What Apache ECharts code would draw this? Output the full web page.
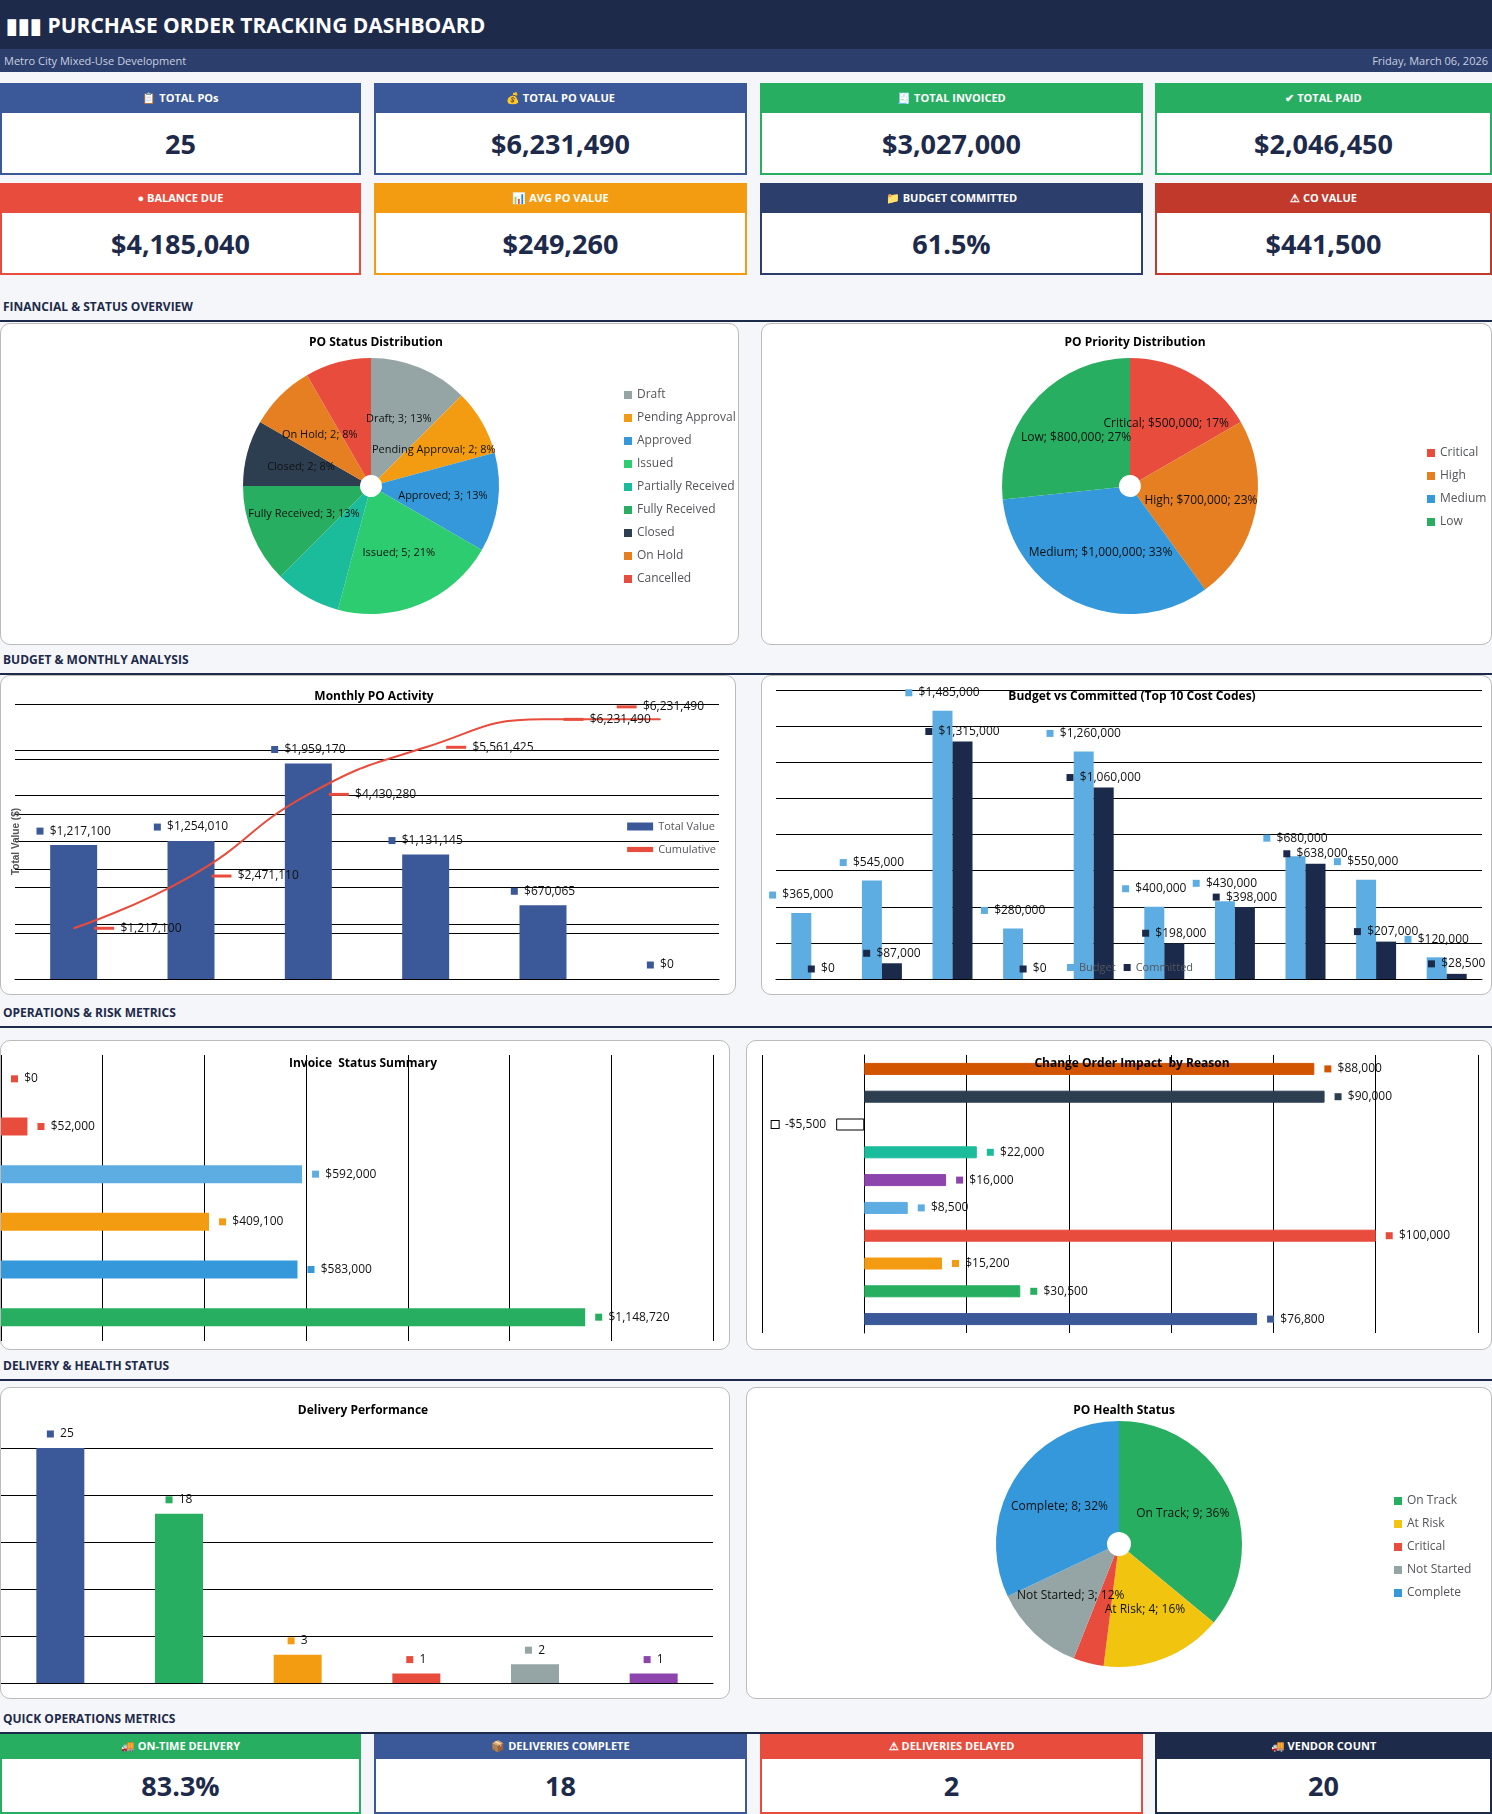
<!DOCTYPE html>
<html>
<head>
<meta charset="utf-8">
<script src="https://cdn.jsdelivr.net/npm/echarts@6/dist/echarts.min.js"></script>
<style>
  body { margin: 0; width: 1492px; height: 1814px; background: #f4f6f9; font-family: 'Open Sans', 'Liberation Sans', sans-serif; position: relative; overflow: hidden; }
  .abs { position: absolute; }
  .top { left: 0; top: 0; width: 1492px; height: 49px; background: #1e2a4a; color: #fff; font-size: 21px; font-weight: bold; line-height: 50px; padding-left: 6px; box-sizing: border-box; }
  .sub { left: 0; top: 49px; width: 1492px; height: 23px; background: #2c3e6b; color: #c8cfe0; font-size: 11px; line-height: 23px; padding: 0 4px; box-sizing: border-box; }
  .kpi { background: #fff; box-sizing: border-box; border: 2px solid; border-top: none; }
  .kpi .h { height: 30px; color: #fff; font-size: 11px; font-weight: bold; text-align: center; line-height: 30px; }
  .kpi .v { text-align: center; font-size: 27px; font-weight: bold; color: #1e2a4a; line-height: 62px; }
  .sec { left: 3px; font-size: 12px; font-weight: bold; color: #1e2a4a; }
  .rule { left: 0; width: 1492px; height: 2px; background: #1e2a4a; }
  .panel { background: #fff; border: 1px solid #bbb; border-radius: 10px; box-sizing: border-box; }
</style>
</head>
<body>
<div class="abs top">&#9646;&#9646;&#9646; PURCHASE ORDER TRACKING DASHBOARD</div>
<div class="abs sub"><span>Metro City Mixed-Use Development</span><span style="float:right">Friday, March 06, 2026</span></div>
<div id="kpis"></div>
<div id="panels"></div>
<script>
// ---- data ----
const kpiRow1 = [['📋 TOTAL POs', '25', '#3b5998'], ['💰 TOTAL PO VALUE', '$6,231,490', '#3b5998'], ['🧾 TOTAL INVOICED', '$3,027,000', '#27ae60'], ['✔ TOTAL PAID', '$2,046,450', '#27ae60']];
const kpiRow2 = [['● BALANCE DUE', '$4,185,040', '#e74c3c'], ['📊 AVG PO VALUE', '$249,260', '#f39c12'], ['📁 BUDGET COMMITTED', '61.5%', '#2c3e6b'], ['⚠ CO VALUE', '$441,500', '#c0392b']];
const kpiRow3 = [['🚚 ON-TIME DELIVERY', '83.3%', '#27ae60'], ['📦 DELIVERIES COMPLETE', '18', '#3b5998'], ['⚠ DELIVERIES DELAYED', '2', '#e74c3c'], ['🚚 VENDOR COUNT', '20', '#1e2a4a']];

const statusNames = ['Draft', 'Pending Approval', 'Approved', 'Issued', 'Partially Received', 'Fully Received', 'Closed', 'On Hold', 'Cancelled'];
const statusCounts = [3, 2, 3, 5, 2, 3, 2, 2, 2];
const statusColors = ['#95a5a6', '#f39c12', '#3498db', '#2ecc71', '#1abc9c', '#27ae60', '#2c3e50', '#e67e22', '#e74c3c'];

const priorityNames = ['Critical', 'High', 'Medium', 'Low'];
const priorityValues = [500000, 700000, 1000000, 800000];
const priorityColors = ['#e74c3c', '#e67e22', '#3498db', '#27ae60'];

const months = ['M1', 'M2', 'M3', 'M4', 'M5', 'M6'];
const monthTotal = [1217100, 1254010, 1959170, 1131145, 670065, 0];
const monthCumulative = [1217100, 2471110, 4430280, 5561425, 6231490, 6231490];

const costCodes = ['C1', 'C2', 'C3', 'C4', 'C5', 'C6', 'C7', 'C8', 'C9', 'C10'];
const budget = [365000, 545000, 1485000, 280000, 1260000, 400000, 430000, 680000, 550000, 120000];
const committed = [0, 87000, 1315000, 0, 1060000, 198000, 398000, 638000, 207000, 28500];

const invoiceCats = ['I1', 'I2', 'I3', 'I4', 'I5', 'I6'];
const invoiceValues = [0, 52000, 592000, 409100, 583000, 1148720];
const invoiceColors = ['#e74c3c', '#e74c3c', '#5dade2', '#f39c12', '#3498db', '#27ae60'];

const coCats = ['R1', 'R2', 'R3', 'R4', 'R5', 'R6', 'R7', 'R8', 'R9', 'R10'];
const coValues = [88000, 90000, -5500, 22000, 16000, 8500, 100000, 15200, 30500, 76800];
const coColors = ['#d35400', '#2c3e50', '#ffffff', '#1abc9c', '#8e44ad', '#5dade2', '#e74c3c', '#f39c12', '#27ae60', '#3b5998'];

const deliveryCats = ['D1', 'D2', 'D3', 'D4', 'D5', 'D6'];
const deliveryValues = [25, 18, 3, 1, 2, 1];
const deliveryColors = ['#3b5998', '#27ae60', '#f39c12', '#e74c3c', '#95a5a6', '#8e44ad'];

const healthNames = ['On Track', 'At Risk', 'Critical', 'Not Started', 'Complete'];
const healthCounts = [9, 4, 1, 3, 8];
const healthColors = ['#27ae60', '#f1c40f', '#e74c3c', '#95a5a6', '#3498db'];

// ---- layout ----
const cardX = [[0, 361], [374, 373], [760, 383], [1155, 337]];
function kpiRow(row, top, h) {
  row.forEach(function (k, i) {
    const d = document.createElement('div');
    d.className = 'abs kpi';
    d.style.cssText = 'left:' + cardX[i][0] + 'px;top:' + top + 'px;width:' + cardX[i][1] + 'px;height:' + h + 'px;border-color:' + k[2];
    d.innerHTML = '<div class="h" style="background:' + k[2] + (h < 90 ? ';height:26px;line-height:26px' : '') + '">' + k[0] + '</div><div class="v"' + (h < 90 ? ' style="line-height:54px"' : '') + '>' + k[1] + '</div>';
    document.getElementById('kpis').appendChild(d);
  });
}
kpiRow(kpiRow1, 83, 92);
kpiRow(kpiRow2, 183, 92);
kpiRow(kpiRow3, 1733, 81);

const sections = [['FINANCIAL &amp; STATUS OVERVIEW', 298], ['BUDGET &amp; MONTHLY ANALYSIS', 651], ['OPERATIONS &amp; RISK METRICS', 1004], ['DELIVERY &amp; HEALTH STATUS', 1357], ['QUICK OPERATIONS METRICS', 1710]];
sections.forEach(function (s) {
  const t = document.createElement('div');
  t.className = 'abs sec'; t.style.top = s[1] + 'px'; t.innerHTML = s[0];
  document.body.appendChild(t);
  const r = document.createElement('div');
  r.className = 'abs rule'; r.style.top = (s[1] + 22) + 'px';
  document.body.appendChild(r);
});

function panel(id, x, y, w, h) {
  const p = document.createElement('div');
  p.className = 'abs panel';
  p.style.cssText = 'left:' + x + 'px;top:' + y + 'px;width:' + w + 'px;height:' + h + 'px';
  p.id = id;
  document.getElementById('panels').appendChild(p);
  return echarts.init(p);
}
const font = "'Liberation Sans Narrow', 'Open Sans', sans-serif";
const titleStyle = { fontSize: 12, fontWeight: 'bold', color: '#000', fontFamily: font };
function sq(c) { return { width: 7, height: 7, backgroundColor: c }; }
function money(v) { return (v < 0 ? '-$' : '$') + Math.abs(v).toLocaleString('en-US'); }
function pieFmt(p) { return p.name + '; ' + p.value + '; ' + Math.round(p.percent) + '%'; }

// status pie
panel('p1', 0, 323, 739, 322).setOption({
  title: { text: 'PO Status Distribution', left: 370, textAlign: 'center', top: 8, textStyle: titleStyle },
  color: statusColors,
  legend: { orient: 'vertical', left: 618, top: 60, itemWidth: 8, itemHeight: 8, itemGap: 11, icon: 'rect', textStyle: { fontSize: 12, fontFamily: font } },
  series: [{
    type: 'pie', center: [370, 162], radius: [11, 128], startAngle: 90, clockwise: true,
    label: { position: 'inside', color: '#111', fontSize: 11, fontFamily: font, formatter: pieFmt },
    labelLine: { show: false },
    data: statusNames.map(function (n, i) { return { name: n, value: statusCounts[i] }; })
  }]
});

// priority pie
panel('p2', 761, 323, 731, 322).setOption({
  title: { text: 'PO Priority Distribution', left: 368, textAlign: 'center', top: 8, textStyle: titleStyle },
  color: priorityColors,
  legend: { orient: 'vertical', left: 660, top: 118, itemWidth: 8, itemHeight: 8, itemGap: 11, icon: 'rect', textStyle: { fontSize: 12, fontFamily: font } },
  series: [{
    type: 'pie', center: [368, 162], radius: [11, 128], startAngle: 90,
    label: { position: 'inside', color: '#111', fontSize: 12, fontFamily: font, formatter: function (p) { return p.name + '; ' + money(p.value) + '; ' + Math.round(p.percent) + '%'; } },
    data: priorityNames.map(function (n, i) { return { name: n, value: priorityValues[i] }; })
  }]
});

// monthly activity
panel('p3', 0, 675, 736, 320).setOption({
  title: { text: 'Monthly PO Activity', left: 368, textAlign: 'center', top: 10, textStyle: titleStyle },
  grid: { left: 14, right: 16, top: 28, bottom: 15 },
  legend: { orient: 'vertical', right: 14, top: 140, itemGap: 12, itemWidth: 26, itemHeight: 8, textStyle: { fontSize: 11, fontFamily: font },
    data: [{ name: 'Total Value', icon: 'rect' }, { name: 'Cumulative', icon: 'path://M0,0H10V2H0Z' }] },
  xAxis: { type: 'category', data: months, axisLabel: { show: false }, axisTick: { show: false }, axisLine: { lineStyle: { color: '#000' } } },
  yAxis: [
    { type: 'value', min: 0, max: 2500000, interval: 500000, axisLabel: { show: false }, splitLine: { lineStyle: { color: '#000' } }, name: 'Total Value ($)', nameLocation: 'middle', nameGap: -6, nameTextStyle: { fontSize: 10, fontWeight: 'bold' } },
    { type: 'value', min: 0, max: 6600000, interval: 1100000, axisLabel: { show: false }, splitLine: { lineStyle: { color: '#000' } } }
  ],
  series: [
    { name: 'Total Value', type: 'bar', barWidth: 47, itemStyle: { color: '#3b5998' }, data: monthTotal,
      label: { show: true, position: 'top', distance: 8, fontSize: 12, fontFamily: font, color: '#111', formatter: function (p) { return '{s|}  ' + money(p.value); }, rich: { s: sq('#3b5998') } } },
    { name: 'Cumulative', type: 'line', yAxisIndex: 1, smooth: true, symbol: 'circle', symbolSize: 1, showSymbol: true, lineStyle: { color: '#e74c3c', width: 2 }, itemStyle: { color: '#e74c3c' },
      data: monthCumulative.map(function (v, i) { return i === monthCumulative.length - 1 ? { value: v, label: { position: 'top', distance: 6 } } : v; }),
      label: { show: true, position: 'right', distance: 20, fontSize: 12, fontFamily: font, color: '#111', formatter: function (p) { return '{s|}  ' + money(p.value); }, rich: { s: { width: 20, height: 3, backgroundColor: '#e74c3c' } } } }
  ]
});

// budget vs committed
panel('p4', 761, 675, 731, 320).setOption({
  title: { text: 'Budget vs Committed (Top 10 Cost Codes)', left: 365, textAlign: 'center', top: 10, textStyle: titleStyle },
  grid: { left: 14, right: 9, top: 14, bottom: 15 },
  legend: { bottom: 16, left: 300, itemWidth: 7, itemHeight: 7, icon: 'rect', textStyle: { fontSize: 11, fontFamily: font } },
  xAxis: { type: 'category', data: costCodes, axisLabel: { show: false }, axisTick: { show: false }, axisLine: { lineStyle: { color: '#000' } } },
  yAxis: { type: 'value', min: 0, max: 1600000, interval: 200000, axisLabel: { show: false }, splitLine: { lineStyle: { color: '#000' } } },
  series: [
    { name: 'Budget', type: 'bar', barWidth: 20, barGap: '0%', itemStyle: { color: '#5dade2' }, data: budget,
      label: { show: true, position: 'top', distance: 12, fontSize: 12, fontFamily: font, color: '#111', formatter: function (p) { return '{s|}  ' + money(p.value); }, rich: { s: sq('#5dade2') } } },
    { name: 'Committed', type: 'bar', barWidth: 20, itemStyle: { color: '#1b2a4a' }, data: committed,
      label: { show: true, position: 'top', distance: 4, fontSize: 12, fontFamily: font, color: '#111', formatter: function (p) { return '{s|}  ' + money(p.value); }, rich: { s: sq('#1b2a4a') } } }
  ]
});

// invoice status
panel('p5', 0, 1040, 730, 310).setOption({
  title: { text: 'Invoice  Status Summary', left: 357, textAlign: 'center', top: 12, textStyle: titleStyle },
  grid: { left: 0, right: 16, top: 14, bottom: 8 },
  xAxis: { type: 'value', min: 0, max: 1400000, interval: 200000, axisLabel: { show: false }, splitLine: { lineStyle: { color: '#000' } } },
  yAxis: { type: 'category', inverse: true, data: invoiceCats, axisLabel: { show: false }, axisTick: { show: false }, axisLine: { show: false } },
  series: [{ type: 'bar', barWidth: 18,
    data: invoiceValues.map(function (v, i) { return { value: v, itemStyle: { color: invoiceColors[i] } }; }),
    label: { show: true, position: 'right', distance: 10, fontSize: 12, fontFamily: font, color: '#111',
      formatter: function (p) { return '{s' + p.dataIndex + '|}  ' + money(p.value); },
      rich: Object.fromEntries(invoiceColors.map(function (c, i) { return ['s' + i, sq(c)]; })) } }]
});

// change orders
panel('p6', 746, 1040, 746, 310).setOption({
  title: { text: 'Change Order Impact  by Reason', left: 380, textAlign: 'center', top: 12, textStyle: titleStyle },
  grid: { left: 15, right: 13, top: 14, bottom: 16 },
  xAxis: { type: 'value', min: -20000, max: 120000, interval: 20000, axisLabel: { show: false }, splitLine: { lineStyle: { color: '#000' } } },
  yAxis: { type: 'category', inverse: true, data: coCats, axisLabel: { show: false }, axisTick: { show: false }, axisLine: { lineStyle: { color: '#000' } } },
  series: [{ type: 'bar', barWidth: 12,
    data: coValues.map(function (v, i) { return { value: v, itemStyle: { color: coColors[i], borderColor: v < 0 ? '#000' : coColors[i], borderWidth: 1 }, label: v < 0 ? { position: 'left' } : {} }; }),
    label: { show: true, position: 'right', distance: 10, fontSize: 12, fontFamily: font, color: '#111',
      formatter: function (p) { return '{s' + p.dataIndex + '|}  ' + money(p.value); },
      rich: Object.fromEntries(coColors.map(function (c, i) { return ['s' + i, { width: 7, height: 7, backgroundColor: c, borderColor: '#000', borderWidth: c === '#ffffff' ? 1 : 0 }]; })) } }]
});

// delivery performance
panel('p7', 0, 1387, 730, 312).setOption({
  title: { text: 'Delivery Performance', left: 357, textAlign: 'center', top: 12, textStyle: titleStyle },
  grid: { left: 0, right: 16, top: 60, bottom: 15 },
  xAxis: { type: 'category', data: deliveryCats, axisLabel: { show: false }, axisTick: { show: false }, axisLine: { lineStyle: { color: '#000' } } },
  yAxis: { type: 'value', min: 0, max: 25, interval: 5, axisLabel: { show: false }, splitLine: { lineStyle: { color: '#000' } } },
  series: [{ type: 'bar', barWidth: 48,
    data: deliveryValues.map(function (v, i) { return { value: v, itemStyle: { color: deliveryColors[i] } }; }),
    label: { show: true, position: 'top', distance: 8, fontSize: 12, fontFamily: font, color: '#111',
      formatter: function (p) { return '{s' + p.dataIndex + '|}  ' + p.value; },
      rich: Object.fromEntries(deliveryColors.map(function (c, i) { return ['s' + i, sq(c)]; })) } }]
});

// health pie
panel('p8', 746, 1387, 746, 312).setOption({
  title: { text: 'PO Health Status', left: 372, textAlign: 'center', top: 12, textStyle: titleStyle },
  color: healthColors,
  legend: { orient: 'vertical', left: 642, top: 102, itemWidth: 8, itemHeight: 8, itemGap: 11, icon: 'rect', textStyle: { fontSize: 12, fontFamily: font } },
  series: [{
    type: 'pie', center: [372, 156], radius: [12, 123], startAngle: 90,
    label: { position: 'inside', color: '#111', fontSize: 12, fontFamily: font, formatter: pieFmt },
    data: healthNames.map(function (n, i) { return { name: n, value: healthCounts[i] }; })
  }]
});
</script>
</body>
</html>
